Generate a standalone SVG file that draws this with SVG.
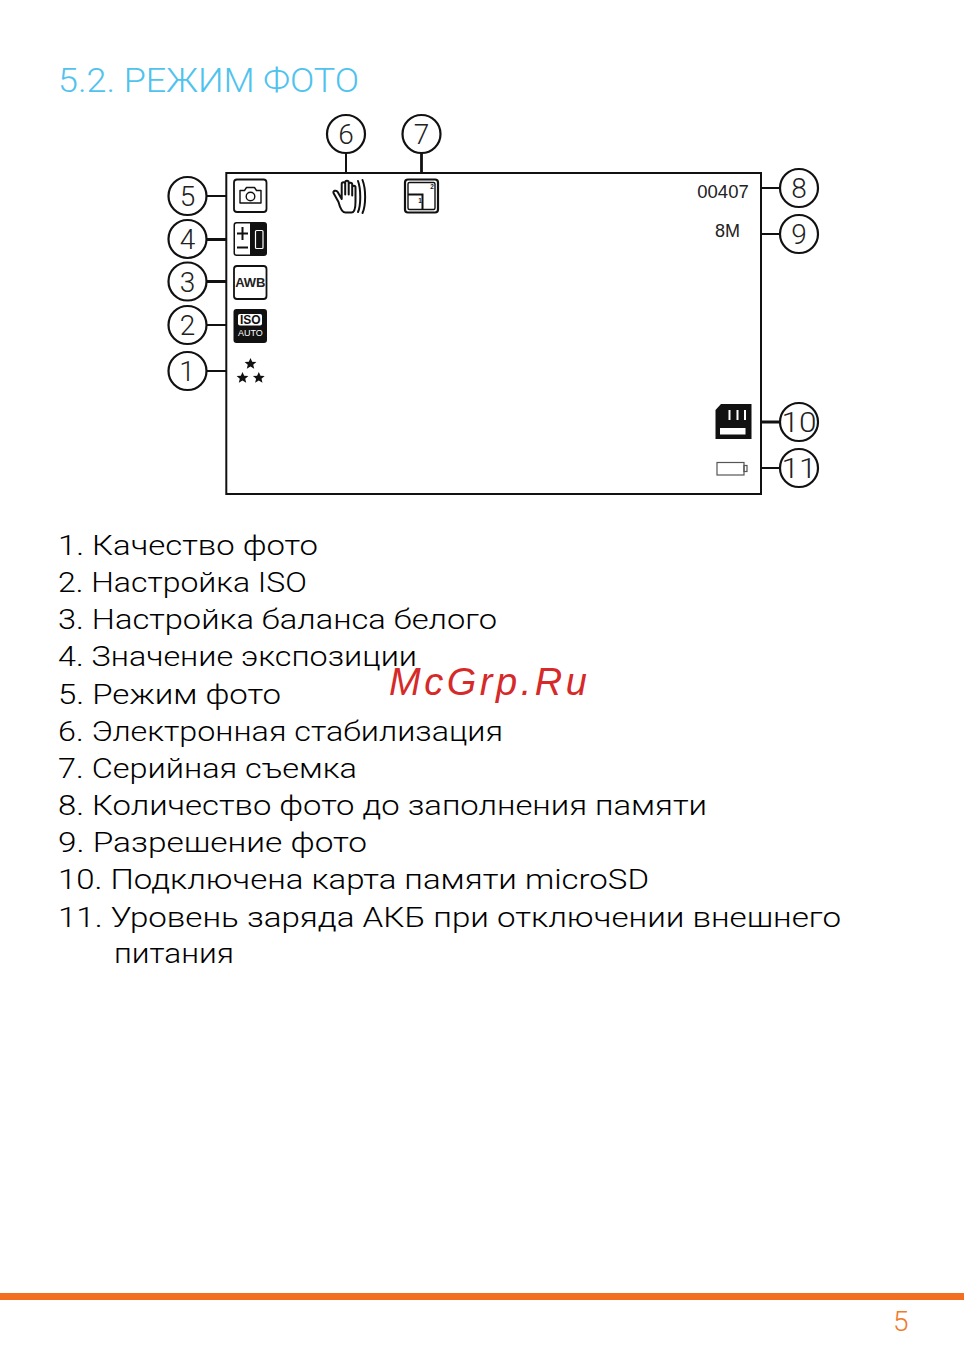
<svg xmlns="http://www.w3.org/2000/svg" width="964" height="1361" viewBox="0 0 964 1361">
<style>
.t{font-family:"Roboto","Liberation Sans",sans-serif;font-weight:300;font-size:28.500px;fill:#000}
.c{fill:#fff;stroke:#111;stroke-width:2.2}
.n{font-family:"Roboto","Liberation Sans",sans-serif;font-weight:300;font-size:28px;fill:#222;text-anchor:middle}
.l{stroke:#111;stroke-width:2;fill:none}
.i{font-family:"Liberation Sans",Arial,sans-serif}
.box{fill:#fff;stroke:#111;stroke-width:1.8}
</style>
<rect width="964" height="1361" fill="#fff"/>
<text id="title" x="58" y="92" textLength="301" lengthAdjust="spacingAndGlyphs" style="font-family:Roboto,sans-serif;font-weight:300;font-size:33px;fill:#4fc3ee">5.2. РЕЖИМ ФОТО</text>
<g id="connectors" class="l">
<path d="M346 153V173M207 196H226M207 325H226M207 371H226M762 188H780M762 234H780M762 468H780"/>
<path stroke-width="2.800" d="M421.500 153V173M207 239.500H226M207 281.500H226M762 422H780"/>
</g>
<rect id="screen" x="226.300" y="173" width="534.700" height="321" fill="none" stroke="#111" stroke-width="2"/>
<g id="n1"><circle class="c" cx="187.500" cy="371" r="19"/><text class="n" x="187" y="381">1</text></g>
<g id="n2"><circle class="c" cx="187.500" cy="325" r="19"/><text class="n" x="187.500" y="335">2</text></g>
<g id="n3"><circle class="c" cx="187.500" cy="281.500" r="19"/><text class="n" x="187.500" y="291.500">3</text></g>
<g id="n4"><circle class="c" cx="187.500" cy="239" r="19"/><text class="n" x="187.500" y="249">4</text></g>
<g id="n5"><circle class="c" cx="187.500" cy="196" r="19"/><text class="n" x="187.500" y="206">5</text></g>
<g id="n6"><circle class="c" cx="346" cy="134" r="19"/><text class="n" x="346" y="144">6</text></g>
<g id="n7"><circle class="c" cx="421.500" cy="134" r="19"/><text class="n" x="421.500" y="144">7</text></g>
<g id="n8"><circle class="c" cx="799" cy="188" r="19"/><text class="n" x="799" y="198">8</text></g>
<g id="n9"><circle class="c" cx="799" cy="234" r="19"/><text class="n" x="799" y="244">9</text></g>
<g id="n10"><circle class="c" cx="799" cy="422" r="19"/><text class="n" x="799" y="432" textLength="35" lengthAdjust="spacingAndGlyphs">10</text></g>
<g id="n11"><circle class="c" cx="799" cy="468" r="19"/><text class="n" x="799" y="478" textLength="35" lengthAdjust="spacingAndGlyphs">11</text></g>
<g id="icon-photo"><rect class="box" x="234" y="179.500" width="32.500" height="32.500" rx="3"/>
<path d="M240 190.500h4.500l2-3h8l2 3h4.500v12.500h-21z" fill="none" stroke="#111" stroke-width="1.400" stroke-linejoin="round"/><circle cx="250.500" cy="196.500" r="4.300" fill="none" stroke="#111" stroke-width="1.400"/></g>
<g id="icon-ev"><rect x="233.500" y="222" width="33.500" height="34" rx="3" fill="#111"/><path d="M235 225a1.500 1.500 0 0 1 1.500-1.500h13.500v31h-13.500a1.500 1.500 0 0 1-1.500-1.500z" fill="#fff"/>
<path d="M242.500 227v13M237 233.500h11M237 247.500h11" stroke="#111" stroke-width="2"/><rect x="255.500" y="230.500" width="7.500" height="18" rx="1" fill="none" stroke="#fff" stroke-width="1.200"/></g>
<g id="icon-awb"><rect class="box" x="234" y="266" width="32.500" height="33" rx="3"/><text class="i" x="250.300" y="287" font-size="13" font-weight="700" text-anchor="middle" fill="#222">AWB</text></g>
<g id="icon-iso"><rect x="233.500" y="309" width="33.500" height="34" rx="3" fill="#111"/><rect x="238" y="314" width="24" height="11.500" rx="2" fill="#fff"/><text class="i" x="250.300" y="324" font-size="12" font-weight="700" text-anchor="middle" fill="#111">ISO</text><text class="i" x="250.300" y="336" font-size="9" text-anchor="middle" fill="#fff">AUTO</text></g>
<g id="icon-stars" fill="#111">
<path d="M250.500 358l1.700 3.700 4.200.3-3.200 2.700 1 4-3.700-2.100-3.700 2.100 1-4-3.200-2.700 4.200-.3z"/>
<path d="M242.500 372l1.700 3.700 4.200.3-3.200 2.700 1 4-3.700-2.100-3.700 2.100 1-4-3.200-2.700 4.200-.3z"/>
<path d="M258.800 372l1.700 3.700 4.200.3-3.200 2.700 1 4-3.700-2.100-3.700 2.100 1-4-3.200-2.700 4.200-.3z"/></g>
<g id="icon-stab" fill="none" stroke="#111" stroke-width="2" stroke-linecap="round" stroke-linejoin="round">
<path d="M333.500 193l5 9c1 4 3.500 10.500 7 10.500h6c3 0 4-6 4-11v-14c0-2.500-3-2.500-3.300 0v8-11c0-2.500-3.400-2.500-3.500 0v10-12c0-2.500-3.500-2.500-3.500 0v12-10.500c0-2.500-3.500-2.500-3.500 0v15l-4-7c-1.500-2.500-5-1-4.200 1z"/>
<path d="M358 181c3 8 3 24 0 31M362.500 180c3.500 9 3.500 25 0 33"/></g>
<g id="icon-burst"><rect x="405" y="179.500" width="33" height="33" rx="3" fill="none" stroke="#111" stroke-width="2.200"/><rect x="408" y="182.500" width="27" height="27" rx="1.500" fill="none" stroke="#111" stroke-width="1.400"/><path d="M408 194.500h14.500v15" fill="none" stroke="#111" stroke-width="2"/><text class="i" x="432" y="188.500" font-size="6.500" font-weight="700" text-anchor="middle" fill="#222">2</text><text class="i" x="420" y="203" font-size="6.500" font-weight="700" text-anchor="middle" fill="#222">1</text></g>
<text id="count" class="i" x="723" y="198" font-size="18.500" text-anchor="middle" fill="#222">00407</text>
<text id="res" class="i" x="727.500" y="237" font-size="18" text-anchor="middle" fill="#222">8M</text>
<g id="icon-sd"><path d="M721 404h30.500v35h-36v-29z" fill="#111"/><path d="M729.500 410v10M737.500 410v10M745 410v10" stroke="#fff" stroke-width="2"/><rect x="720" y="428" width="25.500" height="6.500" fill="#fff"/></g>
<g id="icon-batt" fill="none" stroke="#555" stroke-width="1.200"><rect x="717" y="462.500" width="27" height="12.500"/><rect x="744" y="465.500" width="3" height="6"/></g>
<g id="list">
<text class="t" x="58" y="555" textLength="260" lengthAdjust="spacingAndGlyphs">1. Качество фото</text>
<text class="t" x="58" y="592" textLength="249" lengthAdjust="spacingAndGlyphs">2. Настройка ISO</text>
<text class="t" x="58" y="629" textLength="439" lengthAdjust="spacingAndGlyphs">3. Настройка баланса белого</text>
<text class="t" x="58" y="666" textLength="359" lengthAdjust="spacingAndGlyphs">4. Значение экспозиции</text>
<text class="t" x="58" y="704" textLength="223" lengthAdjust="spacingAndGlyphs">5. Режим фото</text>
<text class="t" x="58" y="741" textLength="445" lengthAdjust="spacingAndGlyphs">6. Электронная стабилизация</text>
<text class="t" x="58" y="778" textLength="299" lengthAdjust="spacingAndGlyphs">7. Серийная съемка</text>
<text class="t" x="58" y="815" textLength="649" lengthAdjust="spacingAndGlyphs">8. Количество фото до заполнения памяти</text>
<text class="t" x="58" y="852" textLength="309" lengthAdjust="spacingAndGlyphs">9. Разрешение фото</text>
<text class="t" x="58" y="889" textLength="591" lengthAdjust="spacingAndGlyphs">10. Подключена карта памяти microSD</text>
<text class="t" x="58" y="927" textLength="783" lengthAdjust="spacingAndGlyphs">11. Уровень заряда АКБ при отключении внешнего</text>
<text class="t" x="114" y="963" textLength="120" lengthAdjust="spacingAndGlyphs">питания</text>
</g>
<text id="watermark" x="389" y="695" textLength="198" lengthAdjust="spacing" style="font-family:'Liberation Sans',sans-serif;font-style:italic;font-size:38px;fill:#d62a2a">McGrp.Ru</text>
<rect id="footer-bar" x="0" y="1293" width="964" height="7" fill="#f26f21"/>
<text id="page" x="893" y="1331" style="font-family:Roboto,sans-serif;font-weight:300;font-size:28px;fill:#f07a2a">5</text>
</svg>
